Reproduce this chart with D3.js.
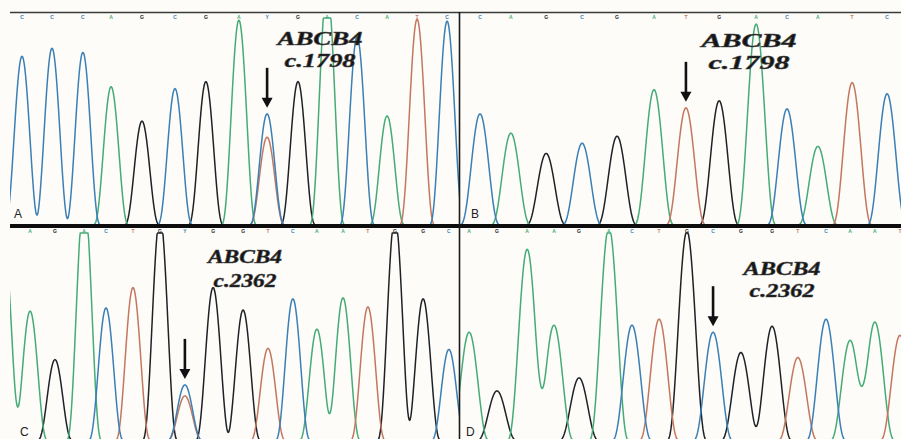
<!DOCTYPE html>
<html>
<head>
<meta charset="utf-8">
<script src="https://cdn.jsdelivr.net/npm/d3@7"></script>
<style>
  body { margin: 0; background: #fdfcf9; }
  svg { display: block; }
</style>
</head>
<body>
<div id="chart"></div>
<script>
// Peaks: scan position, base call, signal height (1000 = top of window)
var scanA = [4, 14, 24.3, 33.7, 44, 55, 65.3, 76.3, 85.7, 96, 105.7, 115.7, 125.7, 135.7, 145.7];
var callA = ["C","C","C","A","G","C","G","A","Y","G","A","C","A","T","C"];
var heightA = [815, 854, 834, 668, 502, 659, 693, 990, 537, 693, 1150, 910, 527, 995, 985];
var extraA = [[85.7, "T", 424]];

var scanB = [5.9, 15, 25.4, 36, 46.3, 57.2, 66.6, 76.4, 87.3, 96.4, 105.5, 115.6, 125.9];
var callB = ["C","A","G","C","G","A","T","G","A","C","A","T","C"];
var heightB = [537, 444, 346, 395, 429, 654, 566, 600, 971, 561, 380, 688, 634];
var extraB = [];

var scanC = [6.7, 15, 24.7, 32, 41, 50, 58.3, 67.7, 77.7, 86, 94.3, 102.3, 111, 119.3, 128.3, 137.7, 146.3];
var callC = ["A","G","A","C","T","G","Y","G","G","T","C","A","A","T","G","G","C"];
var heightC = [624, 390, 1180, 639, 737, 1080, 268, 737, 629, 444, 683, 537, 688, 644, 1080, 683, 439];
var extraC = [[58.3, "T", 215], [-2, "A", 950]];

var scanD = [2.7, 10.9, 19.8, 27.7, 35.1, 43.9, 50.7, 58.7, 66.9, 74.6, 82.8, 92, 99.6, 107.9, 115, 122.3, 129.7];
var callD = ["A","G","A","A","G","A","C","T","G","C","G","G","T","C","A","A","T"];
var heightD = [522, 239, 922, 556, 302, 1030, 556, 585, 1010, 522, 424, 551, 400, 585, 483, 571, 507];
var extraD = [];

// mutated position (index into the calls) and its label
var markIndex = [8, 6, 6, 9];
var geneLabel = ["ABCB4", "ABCB4", "ABCB4", "ABCB4"];
var cdnaLabel = ["c.1798", "c.1798", "c.2362", "c.2362"];
var panelNames = ["A", "B", "C", "D"];

var baseColor = { A: "#45ab77", C: "#3a7fb5", G: "#1e2226", T: "#c4775f" };
var iupacMain = { Y: "C", R: "A" };

var svgWidth = 901;
var svgHeight = 439;
var halfWidth = 6;

var svg = d3.select("#chart")
  .append("svg")
  .attr("width", svgWidth)
  .attr("height", svgHeight);

svg.append("rect")
  .attr("width", svgWidth)
  .attr("height", svgHeight)
  .attr("fill", "#fdfcf9");

// layout of the four windows
var panels = [
  { scans: scanA, calls: callA, heights: heightA, extra: extraA, left: 10, right: 459, domain: [0, 150], range: [10, 460], base: 225, top: 18, callY: 18.5, nameY: 218, nameX: 14, lab: [320, 45, 67, 19, 85, 71] },
  { scans: scanB, calls: callB, heights: heightB, extra: extraB, left: 460, right: 901, domain: [0, 130], range: [460, 901], base: 225, top: 18, callY: 18.5, nameY: 218, nameX: 471, lab: [749, 46.5, 68.5, 19.5, 95, 81] },
  { scans: scanC, calls: callC, heights: heightC, extra: extraC, left: 10, right: 459, domain: [0, 150], range: [10, 460], base: 440.5, top: 233, callY: 233, nameY: 435.5, nameX: 20, lab: [245, 263, 287, 18, 74, 63] },
  { scans: scanD, calls: callD, heights: heightD, extra: extraD, left: 460, right: 901, domain: [0, 130], range: [460, 901], base: 440.5, top: 233, callY: 233, nameY: 435.5, nameX: 466, lab: [782, 275, 297, 18, 77, 65] }
];

panels.forEach(function(p, i) {
  var x = d3.scaleLinear().domain(p.domain).range(p.range);
  var y = d3.scaleLinear().domain([0, 1000]).range([p.base, p.top]);

  var peaks = p.scans.map(function(s, k) {
    var c = p.calls[k];
    return { scan: s, base: iupacMain[c] || c, height: p.heights[k] };
  });
  p.extra.forEach(function(e) {
    peaks.push({ scan: e[0], base: e[1], height: e[2] });
  });

  var clipId = "clip" + i;
  svg.append("clipPath").attr("id", clipId)
    .append("rect")
    .attr("x", p.left)
    .attr("y", p.top - 6)
    .attr("width", p.right - p.left)
    .attr("height", p.base - p.top + 12);

  var g = svg.append("g").attr("clip-path", "url(#" + clipId + ")");

  var line = d3.line()
    .x(function(d) { return x(d[0]); })
    .y(function(d) { return y(d[1]); });

  ["G", "A", "T", "C"].forEach(function(b) {
    var pts = [];
    for (var s = p.domain[0] - 8; s <= p.domain[1] + 8; s += 0.2) {
      var v = 0;
      peaks.forEach(function(pk) {
        if (pk.base !== b) return;
        var d = (s - pk.scan) / halfWidth;
        if (Math.abs(d) < 1) v += pk.height * Math.pow(1 - d * d, 3);
      });
      pts.push([s, Math.min(v, 1000)]);
    }
    g.append("path")
      .attr("d", line(pts))
      .attr("fill", "none")
      .attr("stroke", baseColor[b])
      .attr("stroke-width", 1.5)
      .attr("stroke-linejoin", "round");
  });

  // base calls along the top of each window
  svg.append("g").selectAll("text")
    .data(p.scans)
    .enter()
    .append("text")
    .attr("x", function(d) { return x(d); })
    .attr("y", p.callY)
    .attr("text-anchor", "middle")
    .attr("font-family", "Liberation Sans, Arial, sans-serif")
    .attr("font-weight", "bold")
    .attr("font-size", 5)
    .attr("fill", function(d, k) { return baseColor[iupacMain[p.calls[k]] || p.calls[k]]; })
    .text(function(d, k) { return p.calls[k]; });

  // arrow over the mutated peak
  var mi = markIndex[i];
  var ax = x(p.scans[mi]);
  var tip = y(p.heights[mi]) - 6;
  svg.append("line")
    .attr("x1", ax).attr("x2", ax)
    .attr("y1", tip - 40).attr("y2", tip - 7)
    .attr("stroke", "#111")
    .attr("stroke-width", 2.6);
  svg.append("path")
    .attr("d", "M" + (ax - 5.5) + "," + (tip - 10) + "L" + (ax + 5.5) + "," + (tip - 10) + "L" + ax + "," + tip + "Z")
    .attr("fill", "#111");

  // gene / position label
  var lab = p.lab;
  [[geneLabel[i], lab[1], lab[4]], [cdnaLabel[i], lab[2], lab[5]]].forEach(function(t) {
    svg.append("text")
      .attr("x", lab[0])
      .attr("y", t[1])
      .attr("text-anchor", "middle")
      .attr("font-family", "Liberation Serif, Times New Roman, serif")
      .attr("font-style", "italic")
      .attr("font-weight", "bold")
      .attr("font-size", lab[3])
      .attr("textLength", t[2])
      .attr("lengthAdjust", "spacingAndGlyphs")
      .attr("fill", "#151515")
      .attr("stroke", "#444")
      .attr("stroke-width", 0.5)
      .text(t[0]);
  });

  // panel letter
  svg.append("text")
    .attr("x", p.nameX)
    .attr("y", p.nameY)
    .attr("font-family", "Liberation Sans, Arial, sans-serif")
    .attr("font-size", 12)
    .attr("fill", "#222")
    .text(panelNames[i]);
});

// frame lines
svg.append("line")
  .attr("x1", 10).attr("x2", 901).attr("y1", 12.5).attr("y2", 12.5)
  .attr("stroke", "#3a3a3a").attr("stroke-width", 1.6);
svg.append("line")
  .attr("x1", 10).attr("x2", 901).attr("y1", 226).attr("y2", 226)
  .attr("stroke", "#0d0d0d").attr("stroke-width", 4);
svg.append("line")
  .attr("x1", 459.5).attr("x2", 459.5).attr("y1", 12).attr("y2", 439)
  .attr("stroke", "#1a1a1a").attr("stroke-width", 1.6);
</script>
</body>
</html>
